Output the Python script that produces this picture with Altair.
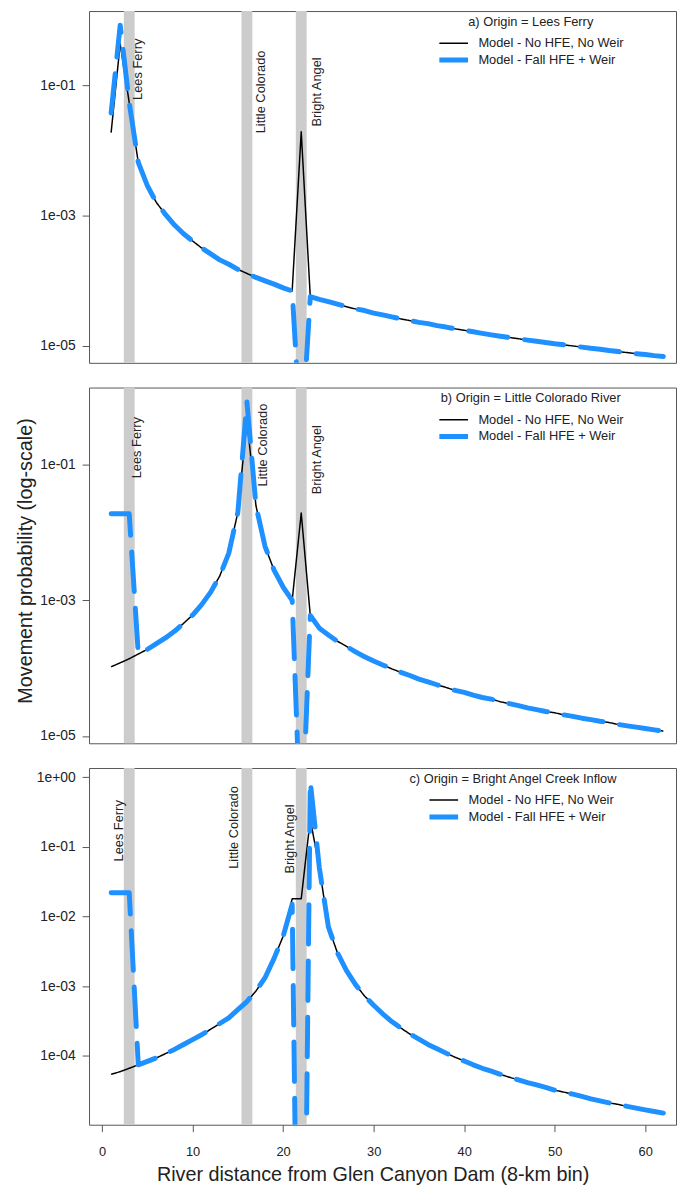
import altair as alt
import pandas as pd

FONT = "Liberation Sans"

BINS = list(range(1, 63))
SERIES = ["Model - No HFE, No Weir", "Model - Fall HFE + Weir"]
SERIES_COLORS = ["#000000", "#1E90FF"]
SERIES_WIDTHS = [1.5, 5]
SERIES_DASHES = [[1, 0], [40, 17]]

PANEL_TITLES = [
    "a) Origin = Lees Ferry",
    "b) Origin = Little Colorado River",
    "c) Origin = Bright Angel Creek Inflow",
]

# Panel a) origin Lees Ferry
P1_NO = [1.9e-2, 4.4e-1, 5.5e-2, 6.6e-3, 2.9e-3, 1.6e-3, 1.05e-3, 7.2e-4, 5.3e-4, 4.1e-4,
         3.2e-4, 2.6e-4, 2.1e-4, 1.8e-4, 1.5e-4, 1.3e-4, 1.13e-4, 1.0e-4, 8.9e-5, 7.8e-5,
         7.0e-5, 1.95e-2, 5.7e-5, 5.2e-5, 4.8e-5, 4.4e-5, 4.0e-5, 3.7e-5, 3.5e-5, 3.2e-5,
         3.0e-5, 2.8e-5, 2.6e-5, 2.45e-5, 2.3e-5, 2.2e-5, 2.05e-5, 1.95e-5, 1.83e-5, 1.74e-5,
         1.65e-5, 1.56e-5, 1.48e-5, 1.41e-5, 1.35e-5, 1.29e-5, 1.23e-5, 1.18e-5, 1.13e-5, 1.08e-5,
         1.04e-5, 1.0e-5, 9.6e-6, 9.2e-6, 8.9e-6, 8.5e-6, 8.2e-6, 7.9e-6, 7.6e-6, 7.4e-6,
         7.1e-6, 6.9e-6]
P1_FALL = [3.8e-2, 8.5e-1, 5.5e-2, 6.6e-3, 2.9e-3, 1.6e-3, 1.05e-3, 7.2e-4, 5.3e-4, 4.1e-4,
           3.2e-4, 2.6e-4, 2.1e-4, 1.8e-4, 1.5e-4, 1.3e-4, 1.13e-4, 1.0e-4, 8.9e-5, 7.8e-5,
           7.0e-5, 3.0e-7, 5.7e-5, 5.2e-5, 4.8e-5, 4.4e-5, 4.0e-5, 3.7e-5, 3.5e-5, 3.2e-5,
           3.0e-5, 2.8e-5, 2.6e-5, 2.45e-5, 2.3e-5, 2.2e-5, 2.05e-5, 1.95e-5, 1.83e-5, 1.74e-5,
           1.65e-5, 1.56e-5, 1.48e-5, 1.41e-5, 1.35e-5, 1.29e-5, 1.23e-5, 1.18e-5, 1.13e-5, 1.08e-5,
           1.04e-5, 1.0e-5, 9.6e-6, 9.2e-6, 8.9e-6, 8.5e-6, 8.2e-6, 7.9e-6, 7.6e-6, 7.4e-6,
           7.1e-6, 6.9e-6]

# Panel b) origin Little Colorado River
P2_NO = [1.05e-4, 1.2e-4, 1.38e-4, 1.62e-4, 1.9e-4, 2.3e-4, 2.8e-4, 3.5e-4, 4.6e-4, 6.1e-4,
         8.7e-4, 1.33e-3, 2.3e-3, 5.0e-3, 2.0e-2, 4.5e-1, 2.5e-2, 6.3e-3, 2.8e-3, 1.58e-3,
         1.0e-3, 1.95e-2, 6.0e-4, 3.9e-4, 3.1e-4, 2.5e-4, 2.1e-4, 1.74e-4, 1.48e-4, 1.28e-4,
         1.12e-4, 9.8e-5, 8.7e-5, 7.8e-5, 6.9e-5, 6.3e-5, 5.7e-5, 5.2e-5, 4.7e-5, 4.4e-5,
         4.0e-5, 3.7e-5, 3.5e-5, 3.2e-5, 3.0e-5, 2.8e-5, 2.6e-5, 2.45e-5, 2.3e-5, 2.2e-5,
         2.05e-5, 1.95e-5, 1.83e-5, 1.74e-5, 1.65e-5, 1.58e-5, 1.48e-5, 1.41e-5, 1.35e-5, 1.29e-5,
         1.23e-5, 1.18e-5]
P2_FALL = [1.9e-2, 1.9e-2, 1.9e-2, 1.62e-4, 1.9e-4, 2.3e-4, 2.8e-4, 3.5e-4, 4.6e-4, 6.1e-4,
           8.7e-4, 1.33e-3, 2.3e-3, 5.0e-3, 2.0e-2, 8.5e-1, 2.5e-2, 6.3e-3, 2.8e-3, 1.58e-3,
           1.0e-3, 2.5e-7, 6.0e-4, 3.9e-4, 3.1e-4, 2.5e-4, 2.1e-4, 1.74e-4, 1.48e-4, 1.28e-4,
           1.12e-4, 9.8e-5, 8.7e-5, 7.8e-5, 6.9e-5, 6.3e-5, 5.7e-5, 5.2e-5, 4.7e-5, 4.4e-5,
           4.0e-5, 3.7e-5, 3.5e-5, 3.2e-5, 3.0e-5, 2.8e-5, 2.6e-5, 2.45e-5, 2.3e-5, 2.2e-5,
           2.05e-5, 1.95e-5, 1.83e-5, 1.74e-5, 1.65e-5, 1.58e-5, 1.48e-5, 1.41e-5, 1.35e-5, 1.29e-5,
           1.23e-5, 1.18e-5]

# Panel c) origin Bright Angel Creek inflow
P3_NO = [5.4e-5, 5.9e-5, 6.6e-5, 7.4e-5, 8.3e-5, 9.3e-5, 1.07e-4, 1.23e-4, 1.45e-4, 1.7e-4,
         2.0e-4, 2.4e-4, 2.9e-4, 3.5e-4, 4.6e-4, 6.0e-4, 8.5e-4, 1.32e-3, 2.5e-3, 5.2e-3,
         1.8e-2, 1.8e-2, 2.5e-1, 5.0e-2, 7.1e-3, 3.0e-3, 1.67e-3, 1.05e-3, 7.2e-4, 5.3e-4,
         4.0e-4, 3.1e-4, 2.5e-4, 2.05e-4, 1.73e-4, 1.45e-4, 1.26e-4, 1.09e-4, 9.5e-5, 8.4e-5,
         7.4e-5, 6.6e-5, 6.0e-5, 5.4e-5, 4.9e-5, 4.5e-5, 4.1e-5, 3.8e-5, 3.5e-5, 3.2e-5,
         3.0e-5, 2.8e-5, 2.6e-5, 2.4e-5, 2.25e-5, 2.1e-5, 2.0e-5, 1.87e-5, 1.77e-5, 1.67e-5,
         1.58e-5, 1.5e-5]
P3_FALL = [2.2e-2, 2.2e-2, 2.2e-2, 7.4e-5, 8.3e-5, 9.3e-5, 1.07e-4, 1.23e-4, 1.45e-4, 1.7e-4,
           2.0e-4, 2.4e-4, 2.9e-4, 3.5e-4, 4.6e-4, 6.0e-4, 8.5e-4, 1.32e-3, 2.5e-3, 5.2e-3,
           1.5e-2, 1.0e-12, 8.7e-1, 5.0e-2, 7.1e-3, 3.0e-3, 1.67e-3, 1.05e-3, 7.2e-4, 5.3e-4,
           4.0e-4, 3.1e-4, 2.5e-4, 2.05e-4, 1.73e-4, 1.45e-4, 1.26e-4, 1.09e-4, 9.5e-5, 8.4e-5,
           7.4e-5, 6.6e-5, 6.0e-5, 5.4e-5, 4.9e-5, 4.5e-5, 4.1e-5, 3.8e-5, 3.5e-5, 3.2e-5,
           3.0e-5, 2.8e-5, 2.6e-5, 2.4e-5, 2.25e-5, 2.1e-5, 2.0e-5, 1.87e-5, 1.77e-5, 1.67e-5,
           1.58e-5, 1.5e-5]

NO_SERIES = [P1_NO, P2_NO, P3_NO]
FALL_SERIES = [P1_FALL, P2_FALL, P3_FALL]

SITE_NAMES = ["Lees Ferry", "Little Colorado", "Bright Angel"]
SITE_BINS = [3, 16, 22]
BAND_HALF_WIDTH = 0.6
LABEL_X = [[3.95, 17.55, 23.75], [3.85, 17.8, 23.7], [1.93, 14.6, 20.75]]
LABEL_Y = [[0.178, 0.08, 0.08], [0.18, 0.197, 0.12], [0.17, 0.19, 0.13]]

Y_DOMAINS = [[5.5e-6, 1.4], [7.8e-6, 1.39], [1.02e-5, 1.36]]
Y_TICKS = [[1e-5, 1e-3, 1e-1], [1e-5, 1e-3, 1e-1], [1e-4, 1e-3, 1e-2, 1e-1, 1]]
X_DOMAIN = [-1.44, 63.4]
X_TICKS = [0, 10, 20, 30, 40, 50, 60]

PANEL_HEIGHTS = [356, 360, 361]
PANEL_WIDTH = 594
LEGEND_X = [352, 352, 324]
LEGEND_SYMBOL_OFFSET = [0, 0, 16]

Y_TITLE = "Movement probability (log-scale)"
X_TITLE = "River distance from Glen Canyon Dam (8-km bin)"

LABEL_EXPR = ("'1e' + (round(log(datum.value)/LN10) < 0 ? '-' : '+') + "
              "(abs(round(log(datum.value)/LN10)) < 10 ? '0' : '') + "
              "abs(round(log(datum.value)/LN10))")


def panel(i):
    xs = alt.Scale(domain=X_DOMAIN, nice=False, zero=False)
    ys = alt.Scale(type="log", domain=Y_DOMAINS[i], nice=False)

    if i == 2:
        xaxis = alt.Axis(values=X_TICKS, tickSize=7, labelPadding=14, labelFontSize=13,
                         grid=False, domain=False, tickColor="#555", labelColor="#222",
                         titleFontSize=20, titleFontWeight="normal",
                         titleColor="#222", titleX=287, titleY=50, titleAlign="center",
                         titleBaseline="middle")
        xtitle = X_TITLE
    else:
        xaxis = None
        xtitle = ""

    yaxis_kw = dict(values=Y_TICKS[i], labelExpr=LABEL_EXPR, tickSize=7, labelPadding=7,
                    labelFontSize=14, grid=False, domain=False, tickColor="#555",
                    labelColor="#222", titleFontSize=20, titleFontWeight="normal",
                    titlePadding=4, titleColor="#222", minExtent=50, maxExtent=50,
                    titleOpacity=1 if i == 1 else 0)
    if i == 1:
        yaxis_kw["titleY"] = 175
    yaxis = alt.Axis(**yaxis_kw)

    X = lambda f: alt.X(f, scale=xs, axis=xaxis, title=xtitle)
    Y = lambda f: alt.Y(f, scale=ys, axis=yaxis, title=Y_TITLE)

    legend = alt.Legend(
        title=PANEL_TITLES[i], orient="none", legendX=LEGEND_X[i], legendY=5,
        titleAnchor="middle", titleFontWeight="normal", titleFontSize=13, titleColor="#222",
        titleLimit=400, titlePadding=6, labelFontSize=13, labelColor="#222", labelOffset=8,
        labelLimit=400, symbolType="stroke", symbolSize=841, clipHeight=17, rowPadding=0,
        padding=0, symbolOffset=LEGEND_SYMBOL_OFFSET[i],
    )
    color = alt.Color("series:N", scale=alt.Scale(domain=SERIES, range=SERIES_COLORS), legend=legend)
    dash = alt.StrokeDash("series:N", scale=alt.Scale(domain=SERIES, range=SERIES_DASHES), legend=legend)
    width = alt.StrokeWidth("series:N", scale=alt.Scale(domain=SERIES, range=SERIES_WIDTHS), legend=legend)

    bands = alt.Chart(pd.DataFrame({"site_bin": SITE_BINS})).transform_calculate(
        lo=f"datum.site_bin - {BAND_HALF_WIDTH}", hi=f"datum.site_bin + {BAND_HALF_WIDTH}"
    ).mark_rect(color="#cccccc").encode(x=X("lo:Q"), x2="hi:Q")

    df_no = pd.DataFrame({"bin": BINS, "p": NO_SERIES[i], "series": SERIES[0]})
    df_fall = pd.DataFrame({"bin": BINS, "p": FALL_SERIES[i], "series": SERIES[1]})

    line_no = alt.Chart(df_no).mark_line(clip=True, strokeJoin="round").encode(
        x=X("bin:Q"), y=Y("p:Q"), color=color, strokeDash=dash, strokeWidth=width
    )
    line_fall = alt.Chart(df_fall).mark_line(clip=True, strokeCap="round", strokeJoin="round").encode(
        x=X("bin:Q"), y=Y("p:Q"), color=color, strokeDash=dash, strokeWidth=width
    )

    df_lab = pd.DataFrame({"name": SITE_NAMES, "lx": LABEL_X[i], "ly": LABEL_Y[i]})
    labels = alt.Chart(df_lab).mark_text(
        angle=270, fontSize=13, font=FONT, color="#222", align="center", baseline="middle"
    ).encode(x=X("lx:Q"), y=Y("ly:Q"), text="name:N")

    return alt.layer(bands, line_no, line_fall, labels).properties(
        width=PANEL_WIDTH, height=PANEL_HEIGHTS[i]
    )


chart = alt.vconcat(panel(0), panel(1), panel(2), spacing=23).resolve_scale(
    color="independent", strokeDash="independent", strokeWidth="independent",
    x="independent", y="independent"
).resolve_legend(
    color="independent", strokeDash="independent", strokeWidth="independent"
).properties(
    padding={"left": 7, "top": -5, "right": 0, "bottom": 0}
).configure_view(
    stroke="#555", strokeWidth=1
).configure_axis(
    labelFont=FONT, titleFont=FONT
).configure_legend(
    labelFont=FONT, titleFont=FONT
).configure_text(font=FONT)

chart.save("out.html", embed_options={"renderer": "svg", "actions": False})
